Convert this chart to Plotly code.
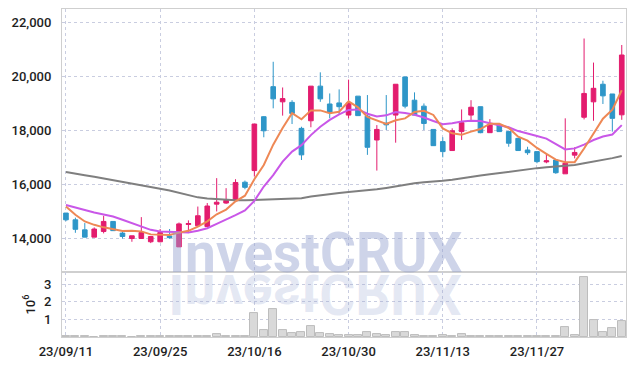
import plotly.graph_objects as go
import base64

dates = ["23/09/11","23/09/12","23/09/13","23/09/14","23/09/15","23/09/18","23/09/19","23/09/20","23/09/21","23/09/22",
         "23/09/25","23/09/26","23/09/27","23/10/04","23/10/05","23/10/06","23/10/10","23/10/11","23/10/12","23/10/13",
         "23/10/16","23/10/17","23/10/18","23/10/19","23/10/20","23/10/23","23/10/24","23/10/25","23/10/26","23/10/27",
         "23/10/30","23/10/31","23/11/01","23/11/02","23/11/03","23/11/06","23/11/07","23/11/08","23/11/09","23/11/10",
         "23/11/13","23/11/14","23/11/15","23/11/16","23/11/17","23/11/20","23/11/21","23/11/22","23/11/23","23/11/24",
         "23/11/27","23/11/28","23/11/29","23/11/30","23/12/01","23/12/04","23/12/05","23/12/06","23/12/07","23/12/08"]

opens = [14950,14700,14330,14060,14270,14640,14210,14010,14010,13890,
         13890,14100,13700,14530,14480,14450,15280,15320,15410,16090,
         16520,18510,19620,19060,19040,18080,18360,19640,18980,19020,
         18570,19270,18530,17650,18270,18570,19980,19120,18900,18040,
         17590,17260,17960,18570,18880,17920,18200,17960,17710,17280,
         17220,16840,16910,16400,17090,18490,19060,19710,19350,18580]
highs = [14950,14780,14580,14420,14850,14640,14300,14110,14800,14085,
         14360,14360,14600,14680,15190,15320,16240,15870,16200,16150,
         18240,18530,20540,19590,19120,18140,19640,20150,19370,19520,
         19880,19270,19310,18200,19310,19710,19980,19410,19000,18040,
         17750,18080,18780,19120,18880,18420,18200,17960,17710,17400,
         17220,17160,16910,18450,17380,21400,20510,19840,19350,21160]
lows = [14650,14220,14060,14060,14200,14300,14010,13890,14010,13840,
        13870,14000,13700,14210,14480,14450,15010,15290,15410,15830,
        16300,17750,18820,18550,18240,16910,18120,19060,18450,18610,
        18450,18550,17100,16520,18020,17550,18820,18570,18020,17430,
        17010,17260,17650,18390,17900,17920,17960,17400,17260,17100,
        16790,16790,16400,16400,16970,18410,18360,18980,17960,18395]
closes = [14700,14350,14060,14360,14640,14300,14085,14110,14230,14085,
          14230,14040,14550,14560,14850,15210,15350,15420,16080,15900,
          18240,17990,19170,19180,18630,17100,19640,19170,18670,18880,
          19020,18550,17380,18040,18210,19710,18900,18570,18260,17440,
          17220,17990,18290,18860,17920,18200,17960,17530,17260,17180,
          16850,16880,16440,16790,17190,19370,19560,19280,18450,20790]

ma5 = [15190,14885,14640,14515,14422,14342,14289,14299,14273,14162,
       14148,14139,14227,14293,14446,14642,14904,15078,15382,15592,
       16198,16726,17476,18096,18642,18414,18744,18744,18642,18692,
       19076,18858,18500,18374,18240,18378,18448,18686,18730,18576,
       18078,17896,17840,17960,18056,18252,18246,18094,17774,17626,
       17356,17140,16922,16828,16830,17334,17870,18438,18770,19488]
ma20 = [15250,15150,15070,14970,14900,14820,14700,14580,14450,14330,
        14270,14250,14230,14230,14300,14390,14550,14700,14870,15050,
        15400,15930,16350,16850,17220,17460,17830,18140,18390,18600,
        18760,18780,18620,18520,18560,18680,18650,18580,18480,18350,
        18230,18270,18330,18360,18350,18270,18200,18120,17980,17900,
        17800,17700,17500,17300,17340,17480,17650,17780,17850,18200]
ma60 = [16470,16420,16350,16290,16230,16170,16110,16050,15990,15920,
        15850,15780,15690,15600,15530,15490,15460,15430,15420,15420,
        15430,15440,15450,15460,15470,15500,15560,15610,15660,15690,
        15730,15760,15790,15830,15880,15940,16000,16050,16090,16110,
        16140,16180,16240,16290,16340,16380,16430,16480,16520,16560,
        16610,16640,16670,16700,16730,16790,16850,16920,16980,17060]
volume_m = [0.05,0.06,0.03,0.02,0.05,0.06,0.03,0.02,0.05,0.03,
            0.04,0.03,0.05,0.05,0.04,0.06,0.14,0.05,0.04,0.04,
            1.37,0.39,1.57,0.39,0.20,0.26,0.63,0.24,0.14,0.10,
            0.10,0.10,0.26,0.14,0.10,0.26,0.26,0.10,0.05,0.04,
            0.10,0.06,0.15,0.08,0.07,0.05,0.04,0.04,0.03,0.04,
            0.03,0.04,0.05,0.55,0.10,3.43,0.98,0.26,0.49,0.92]

tick_dates = ["23/09/11","23/09/25","23/10/16","23/10/30","23/11/13","23/11/27"]
price_ticks = [14000,16000,18000,20000,22000]
vol_ticks = [1,2,3]
watermark = "InvestCRUX"

UP = "#E31C6E"
DOWN = "#2E96C8"
GRID = "#c9cde0"
LINE = "#cfcfcf"
FONT = dict(family="Roboto, Arial, sans-serif", size=13, color="#1e1e1e", weight=500)

fig = go.Figure()
fig.add_trace(go.Candlestick(
    x=dates, open=opens, high=highs, low=lows, close=closes,
    xaxis="x", yaxis="y",
    increasing=dict(line=dict(color=UP, width=1), fillcolor=UP),
    decreasing=dict(line=dict(color=DOWN, width=1), fillcolor=DOWN),
    hoverinfo="skip", showlegend=False))
fig.add_trace(go.Scatter(x=dates, y=ma60, mode="lines", xaxis="x", yaxis="y",
                         line=dict(color="#7f7f7f", width=2), showlegend=False))
fig.add_trace(go.Scatter(x=dates, y=ma20, mode="lines", xaxis="x", yaxis="y",
                         line=dict(color="#C957E8", width=2), showlegend=False))
fig.add_trace(go.Scatter(x=dates, y=ma5, mode="lines", xaxis="x", yaxis="y",
                         line=dict(color="#EE8855", width=2), showlegend=False))
fig.add_trace(go.Bar(x=dates, y=volume_m, xaxis="x2", yaxis="y2", width=0.85,
                     marker=dict(color="#d9d9d9", line=dict(color="#bdbdbd", width=1)),
                     showlegend=False))

xcommon = dict(type="category", categoryorder="array", categoryarray=dates,
               range=[-0.42, 59.45], tickvals=tick_dates, showgrid=True,
               gridcolor=GRID, griddash="dot", gridwidth=1, showline=True, mirror=True,
               linecolor=LINE, linewidth=1, zeroline=False, ticks="", tickfont=FONT)

fig.update_layout(
    width=634, height=366,
    margin=dict(l=62, r=8, t=9, b=29),
    paper_bgcolor="white", plot_bgcolor="white",
    showlegend=False, bargap=0,
    xaxis=dict(**xcommon, anchor="y", showticklabels=False, matches="x2",
               rangeslider=dict(visible=False)),
    xaxis2=dict(**xcommon, anchor="y2", ticklabelstandoff=2),
    yaxis=dict(domain=[0.198, 1], range=[12770, 22490], tickvals=price_ticks,
               tickformat=",", showgrid=True, gridcolor=GRID, griddash="dot",
               showline=True, mirror=True, linecolor=LINE, zeroline=False,
               ticks="", tickfont=FONT, ticklabelstandoff=7),
    yaxis2=dict(domain=[0, 0.198], range=[0, 3.7], tickvals=vol_ticks,
                showgrid=True, gridcolor=GRID, griddash="dot",
                showline=True, mirror=True, linecolor=LINE, zeroline=False,
                ticks="", tickfont=FONT, ticklabelstandoff=7,
                title=dict(text="10<sup>6</sup>", font=FONT, standoff=5)),
    annotations=[dict(text=watermark, xref="paper", yref="paper",
                      x=0.449, y=0.255, xanchor="center", yanchor="middle",
                      showarrow=False,
                      font=dict(family="Roboto, Arial, sans-serif", size=55,
                                color="rgba(150,163,208,0.47)", weight="bold"))],
)

svg = ('<svg xmlns="http://www.w3.org/2000/svg" width="300" height="50">'
       '<g transform="scale(1,-1)"><text x="150" y="-2" text-anchor="middle" '
       'font-family="Roboto, Arial, sans-serif" font-weight="bold" font-size="55" '
       'fill="rgb(150,163,208)" fill-opacity="0.25">' + watermark + '</text></g></svg>')
src = "data:image/svg+xml;base64," + base64.b64encode(svg.encode()).decode()
fig.add_layout_image(dict(source=src, xref="paper", yref="paper",
                          x=(165 - 62) / 564, y=(337 - 273) / 328,
                          sizex=300 / 564, sizey=50 / 328,
                          xanchor="left", yanchor="top", sizing="stretch",
                          layer="above"))

fig.write_html("out.html")
